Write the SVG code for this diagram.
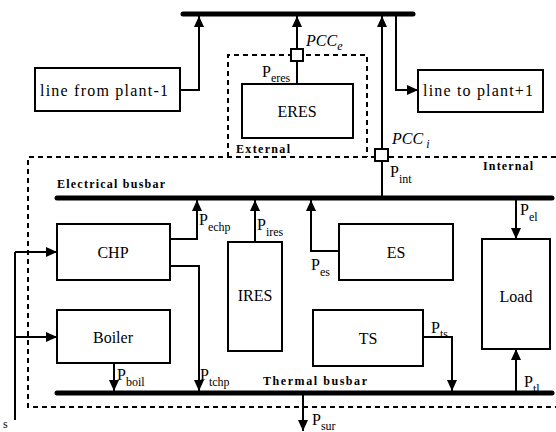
<svg xmlns="http://www.w3.org/2000/svg" width="556" height="432" viewBox="0 0 556 432" font-family="Liberation Serif, Times New Roman, serif">
<defs>
<marker id="ah" markerUnits="userSpaceOnUse" markerWidth="10" markerHeight="10" refX="11" refY="5" orient="auto">
<path d="M0,0 L11,5 L0,10 z" fill="#000"/>
</marker>
<style>
.box{fill:#fff;stroke:#000;stroke-width:2}
.bus{stroke:#000;stroke-width:5;stroke-linecap:round}
.ln{fill:none;stroke:#000;stroke-width:2}
.ar{fill:none;stroke:#000;stroke-width:2;marker-end:url(#ah)}
.dash{fill:none;stroke:#000;stroke-width:2;stroke-dasharray:5,4}
.t{font-size:16px}
.c{text-anchor:middle}
.sub{font-size:12px}
.b{font-size:12px;font-weight:bold}
.i{font-style:italic}
.sq{fill:#fff;stroke:#000;stroke-width:2}
</style>
</defs>

<g id="boundaries">
<path class="dash" d="M228,157 L228,55 L367,55 L367,157"/>
<path class="dash" d="M556,157 L28,157 L28,407 L556,407"/>
<text class="b" x="236" y="153" font-size="11" textLength="54">External</text>
<text class="b" x="483" y="170" font-size="11" textLength="50">Internal</text>
</g>

<g id="busbars">
<line class="bus" x1="183" y1="14" x2="413" y2="14"/>
<line class="bus" x1="57" y1="198" x2="552" y2="198"/>
<line class="bus" x1="57" y1="393" x2="552" y2="393"/>
<text class="b" x="57" y="188" textLength="108">Electrical busbar</text>
<text class="b" x="263" y="385" textLength="104">Thermal busbar</text>
</g>

<g id="connectors">
<path class="ar" d="M180,90 L199,90 L199,16"/>
<path class="ar" d="M396,16 L396,90 L418,90"/>
<path class="ar" d="M297,84 L297,16"/>
<path class="ar" d="M382,198 L382,16"/>
<path class="ar" d="M170,239 L197,239 L197,200"/>
<path class="ar" d="M170,266 L199,266 L199,391"/>
<path class="ar" d="M255,242 L255,200"/>
<path class="ar" d="M339,251 L311,251 L311,200"/>
<path class="ar" d="M516,200 L516,239"/>
<path class="ar" d="M516,395 L516,349"/>
<path class="ar" d="M114,363 L114,391"/>
<path class="ar" d="M423,337 L452,337 L452,391"/>
<path class="ar" d="M303,395 L303,431"/>
<path class="ln" d="M15,420 L15,252"/>
<path class="ar" d="M15,252 L57,252"/>
<path class="ar" d="M15,337 L57,337"/>
</g>

<g id="pcc-e">
<rect class="sq" x="291" y="49" width="12" height="12"/>
<text class="t i" x="306" y="46">PCC<tspan class="sub" dy="4">e</tspan></text>
</g>
<g id="pcc-i">
<rect class="sq" x="375" y="149" width="13" height="12"/>
<text class="t i" x="392" y="144">PCC<tspan class="sub" dy="4"> i</tspan></text>
</g>

<g id="line-from">
<rect class="box" x="35" y="68" width="145" height="43"/>
<text class="t" x="40" y="96" textLength="128">line from plant-1</text>
</g>
<g id="line-to">
<rect class="box" x="418" y="70" width="125" height="42"/>
<text class="t" x="423" y="96" textLength="110">line to plant+1</text>
</g>
<g id="eres">
<rect class="box" x="242" y="84" width="111" height="54"/>
<text class="t c" x="297" y="117">ERES</text>
</g>
<g id="chp">
<rect class="box" x="57" y="224" width="113" height="56"/>
<text class="t c" x="113" y="258">CHP</text>
</g>
<g id="ires">
<rect class="box" x="228" y="242" width="54" height="109"/>
<text class="t c" x="255" y="301">IRES</text>
</g>
<g id="es">
<rect class="box" x="339" y="224" width="114" height="56"/>
<text class="t c" x="396" y="258">ES</text>
</g>
<g id="load">
<rect class="box" x="482" y="239" width="68" height="110"/>
<text class="t c" x="516" y="302">Load</text>
</g>
<g id="boiler">
<rect class="box" x="57" y="310" width="113" height="53"/>
<text class="t c" x="113" y="343">Boiler</text>
</g>
<g id="ts">
<rect class="box" x="313" y="310" width="110" height="56"/>
<text class="t c" x="368" y="344">TS</text>
</g>

<g id="labels">
<text class="t" x="262" y="77">P<tspan class="sub" dy="5">eres</tspan></text>
<text class="t" x="390" y="177">P<tspan class="sub" dy="6">int</tspan></text>
<text class="t" x="199" y="225">P<tspan class="sub" dy="6">echp</tspan></text>
<text class="t" x="257" y="230">P<tspan class="sub" dy="6">ires</tspan></text>
<text class="t" x="311" y="270">P<tspan class="sub" dy="6">es</tspan></text>
<text class="t" x="520" y="215">P<tspan class="sub" dy="6">el</tspan></text>
<text class="t" x="117" y="380">P<tspan class="sub" dy="6">boil</tspan></text>
<text class="t" x="200" y="380">P<tspan class="sub" dy="6">tchp</tspan></text>
<text class="t" x="431" y="333">P<tspan class="sub" dy="5">ts</tspan></text>
<text class="t" x="524" y="387">P<tspan class="sub" dy="6">tl</tspan></text>
<text class="t" x="312" y="425">P<tspan class="sub" dy="5">sur</tspan></text>
<text class="sub" x="3" y="428">s</text>
</g>
</svg>
